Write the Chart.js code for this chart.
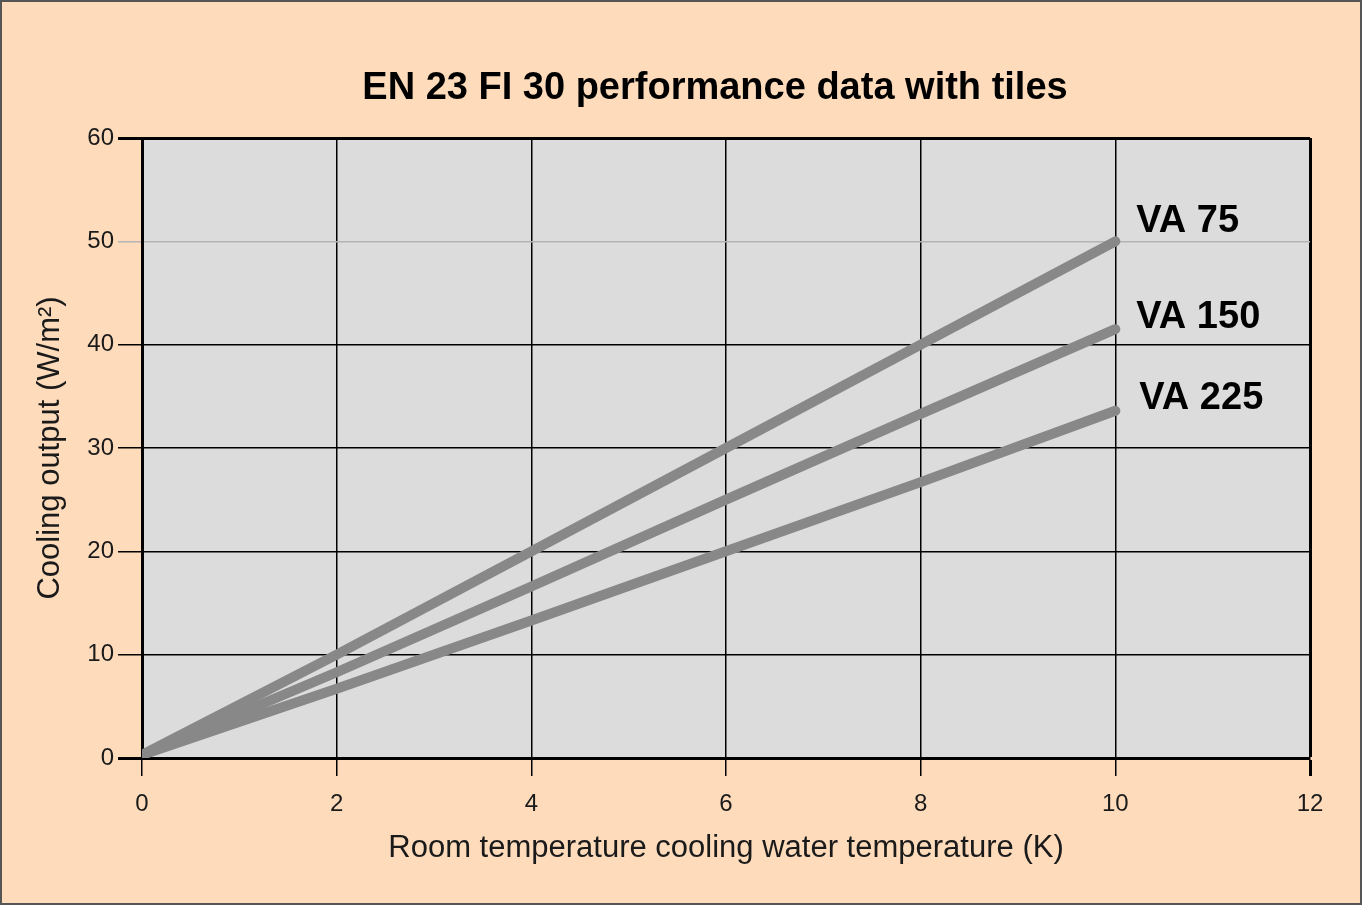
<!DOCTYPE html>
<html>
<head>
<meta charset="utf-8">
<script src="https://cdn.jsdelivr.net/npm/chart.js@4"></script>
<style>
  html, body { margin: 0; padding: 0; background: #fddbbb; }
  canvas { display: block; }
</style>
</head>
<body>
<canvas id="perfChart" width="1362" height="905"></canvas>
<script>
// values
const tempDiff = [0, 2, 4, 6, 8, 10];
const va75 = [0.3, 10, 20, 30, 40, 50];
const va150 = [0.3, 8.3, 16.6, 25, 33.3, 41.5];
const va225 = [0.3, 6.7, 13.3, 20, 26.7, 33.6];
const seriesNames = ['VA 75', 'VA 150', 'VA 225'];
const xTicks = [0, 2, 4, 6, 8, 10, 12];
const yTicks = [0, 10, 20, 30, 40, 50, 60];
const chartTitle = 'EN 23 FI 30 performance data with tiles';

document.addEventListener("DOMContentLoaded", function() {
    const ctx = document.getElementById('perfChart').getContext('2d');
    const font = "'Liberation Sans', Arial, Helvetica, sans-serif";

    // peach page, frame, title and the grey plot area
    const backgroundPlugin = {
        id: 'bg',
        beforeDraw: (chart) => {
            const c = chart.ctx;
            const a = chart.chartArea;
            c.save();
            c.fillStyle = '#fddbbb';
            c.fillRect(0, 0, chart.width, chart.height);
            c.strokeStyle = '#555';
            c.lineWidth = 2;
            c.strokeRect(1, 1, chart.width - 2, chart.height - 2);
            c.fillStyle = '#dcdcdc';
            c.fillRect(a.left, a.top, a.right - a.left, a.bottom - a.top);
            // title, centred a little left of the plot centre like the original
            c.font = "bold 38px " + font;
            c.fillStyle = '#000';
            c.textAlign = 'center';
            c.textBaseline = 'middle';
            c.fillText(chartTitle, (a.left + a.right) / 2 - 11, 89);
            c.restore();
        }
    };

    // series names at the line ends
    const endLabelPlugin = {
        id: 'endLabels',
        afterDatasetsDraw: (chart) => {
            const c = chart.ctx;
            const xs = chart.scales.x, ys = chart.scales.y;
            const shift = [[21, -20], [21, -12], [24, -12]];
            c.save();
            c.font = "bold 38px " + font;
            c.fillStyle = '#000';
            c.textBaseline = 'middle';
            chart.data.datasets.forEach((ds, i) => {
                const last = ds.data[ds.data.length - 1];
                c.fillText(ds.label, xs.getPixelForValue(10) + shift[i][0], ys.getPixelForValue(last) + shift[i][1]);
            });
            c.restore();
        }
    };

    const lineStyle = {
        borderColor: '#888888',
        borderWidth: 10,
        borderCapStyle: 'round',
        pointRadius: 0,
        tension: 0,
        fill: false
    };

    new Chart(ctx, {
        type: 'line',
        plugins: [backgroundPlugin, endLabelPlugin],
        data: {
            labels: tempDiff,
            datasets: [
                Object.assign({label: seriesNames[0], data: va75}, lineStyle),
                Object.assign({label: seriesNames[1], data: va150}, lineStyle),
                Object.assign({label: seriesNames[2], data: va225}, lineStyle)
            ]
        },
        options: {
            responsive: false,
            animation: false,
            layout: {padding: {top: 138, right: 52, bottom: 0, left: 0}},
            plugins: {
                legend: {display: false},
                tooltip: {enabled: false},
                title: {display: false}
            },
            scales: {
                x: {
                    type: 'linear',
                    min: 0, max: 12,
                    afterBuildTicks: (s) => { s.ticks = xTicks.map(v => ({value: v})); },
                    afterFit: (s) => { s.height = 147; },
                    border: {display: true, color: '#000', width: 3},
                    grid: {
                        color: '#000',
                        lineWidth: (c) => (c.tick && c.tick.value === 12) ? 3 : 1.5,
                        tickLength: 18,
                        tickColor: '#000',
                        drawOnChartArea: true
                    },
                    ticks: {color: '#1a1a1a', font: {family: font, size: 24}, padding: 14},
                    title: {
                        display: true,
                        text: 'Room temperature cooling water temperature (K)',
                        color: '#1a1a1a',
                        font: {family: font, size: 31},
                        padding: {top: 4, bottom: 38}
                    }
                },
                y: {
                    min: 0, max: 60,
                    afterBuildTicks: (s) => { s.ticks = yTicks.map(v => ({value: v})); },
                    afterFit: (s) => { s.width = 142; },
                    border: {display: true, color: '#000', width: 3},
                    grid: {
                        color: (c) => (c.tick && c.tick.value === 50) ? '#b4b4b4' : '#000',
                        lineWidth: (c) => (c.tick && (c.tick.value === 60 || c.tick.value === 0)) ? 3 : 1.5,
                        tickLength: 24,
                        tickColor: (c) => (c.tick && c.tick.value === 50) ? '#b4b4b4' : '#000'
                    },
                    ticks: {color: '#1a1a1a', font: {family: font, size: 24}, padding: 4},
                    title: {
                        display: true,
                        text: 'Cooling output (W/m²)',
                        color: '#1a1a1a',
                        font: {family: font, size: 31},
                        padding: {top: 32, bottom: 0}
                    }
                }
            }
        }
    });
});
</script>
</body>
</html>
